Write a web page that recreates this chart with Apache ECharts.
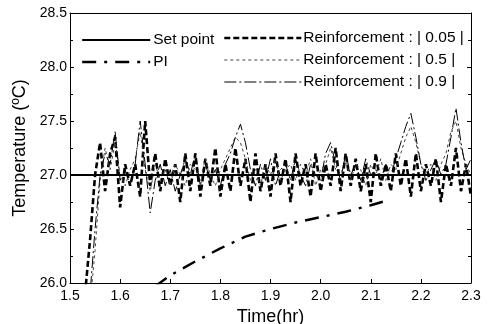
<!DOCTYPE html>
<html>
<head>
<meta charset="utf-8">
<script src="https://cdn.jsdelivr.net/npm/echarts@6/dist/echarts.min.js"></script>
<style>
  html, body { margin: 0; padding: 0; background: #fff; }
  #chart { width: 489px; height: 324px; }
</style>
</head>
<body>
<div id="chart"></div>
<script>
// time axis (hr)
var times = [1.53, 1.54, 1.55, 1.56, 1.57, 1.58, 1.59, 1.60, 1.61, 1.62, 1.63, 1.64, 1.65, 1.66, 1.67, 1.68, 1.69,
	1.70, 1.71, 1.72, 1.73, 1.74, 1.75, 1.76, 1.77, 1.78, 1.79, 1.80, 1.81, 1.82, 1.83, 1.84, 1.85, 1.86, 1.87, 1.88, 1.89,
	1.90, 1.91, 1.92, 1.93, 1.94, 1.95, 1.96, 1.97, 1.98, 1.99, 2.00, 2.01, 2.02, 2.03, 2.04, 2.05, 2.06, 2.07, 2.08, 2.09,
	2.10, 2.11, 2.12, 2.13, 2.14, 2.15, 2.16, 2.17, 2.18, 2.19, 2.20, 2.21, 2.22, 2.23, 2.24, 2.25, 2.26, 2.27, 2.28, 2.29, 2.30];

var rein005 = [25.9, 26.4, 27.0, 27.3, 26.85, 27.2, 27.35, 26.7, 27.1, 26.9, 27.1, 26.8, 27.5, 26.9, 27.2, 26.85, 27.15,
	26.9, 27.1, 26.75, 27.2, 26.85, 27.2, 26.8, 27.15, 26.9, 27.25, 26.8, 27.1, 26.85, 27.25, 26.9, 27.15, 26.75, 27.2, 26.85, 27.1,
	26.8, 27.2, 26.9, 27.15, 26.75, 27.2, 26.9, 27.1, 26.8, 27.2, 26.85, 27.1, 26.9, 27.25, 26.85, 27.2, 26.9, 27.15, 26.85, 27.1,
	26.75, 27.2, 26.9, 27.1, 26.85, 27.2, 26.9, 27.15, 26.8, 27.2, 26.85, 27.1, 26.9, 27.15, 26.75, 27.1, 26.9, 27.25, 26.85, 27.1, 26.8];

var rein05 = [25.4, 25.8, 26.3, 26.95, 27.25, 27.05, 27.3, 27.0, 26.9, 27.05, 27.15, 27.4, 27.05, 26.85, 27.1, 26.95, 27.05,
	26.9, 27.1, 27.0, 26.9, 27.1, 27.05, 26.95, 27.15, 27.0, 26.9, 27.05, 27.15, 27.25, 27.35, 27.3, 27.15, 26.95, 27.05, 26.9, 27.1,
	27.0, 27.15, 26.95, 27.05, 27.1, 26.95, 27.1, 27.0, 27.15, 26.9, 27.05, 27.1, 27.25, 27.05, 27.0, 27.15, 26.95, 27.1, 27.05, 26.9,
	27.1, 27.0, 27.15, 26.95, 27.1, 27.05, 27.2, 27.35, 27.45, 27.3, 27.1, 27.0, 27.1, 26.95, 27.1, 27.2, 27.4, 27.5, 27.25, 27.1, 27.0];

var rein09 = [25.4, 25.9, 26.5, 27.0, 27.2, 27.1, 27.4, 26.95, 27.05, 26.9, 27.1, 27.5, 27.1, 26.65, 26.95, 27.1, 26.9,
	27.05, 26.85, 27.0, 27.15, 27.0, 27.2, 26.9, 27.1, 26.95, 27.05, 26.9, 27.1, 27.2, 27.35, 27.47, 27.3, 27.05, 26.9, 27.1, 26.95,
	27.15, 26.9, 27.05, 27.1, 26.95, 27.15, 27.0, 26.9, 27.1, 27.0, 26.95, 27.2, 27.3, 27.1, 26.95, 27.2, 27.0, 27.1, 26.95, 27.15,
	27.0, 27.05, 26.95, 27.1, 27.0, 27.15, 27.3, 27.45, 27.57, 27.35, 27.1, 26.95, 27.05, 27.15, 27.0, 27.1, 27.35, 27.62, 27.3, 27.05, 27.15];

var setPoint = [[1.5, 27.0], [2.3, 27.0]];

var piTimes = [1.67, 1.70, 1.75, 1.80, 1.85, 1.90, 1.95, 2.00, 2.05, 2.10, 2.13];
var piValues = [25.97, 26.07, 26.2, 26.32, 26.43, 26.5, 26.56, 26.61, 26.66, 26.72, 26.76];

var xTicks = ['1.5', '1.6', '1.7', '1.8', '1.9', '2.0', '2.1', '2.2', '2.3'];

function pairs(xs, ys) {
	var out = [];
	for (var i = 0; i < xs.length; i++) {
		out.push([xs[i], ys[i]]);
	}
	return out;
}

var myChart = echarts.init(document.getElementById('chart'));
var font = 'Liberation Sans, Arial, sans-serif';

var baseAxis = {
	axisLine: { show: true, lineStyle: { color: '#000', width: 1 } },
	axisTick: { show: true, inside: true, length: 4, lineStyle: { color: '#000' } },
	splitLine: { show: false }
};

var options = {
	animation: false,
	backgroundColor: '#fff',
	textStyle: { fontFamily: font },
	grid: { left: 70, right: 18, top: 13, bottom: 41, containLabel: false, outerBoundsMode: 'none' },
	legend: [
		{
			left: 76, top: 27, orient: 'vertical', itemWidth: 68, itemHeight: 10, itemGap: 6,
			textStyle: { fontSize: 15.5, color: '#000', fontFamily: font, padding: [0, 0, 0, -2] },
			itemStyle: { opacity: 0 },
			data: [
				{ name: 'Set point', lineStyle: { width: 2 } },
				{ name: 'PI', lineStyle: { width: 2.4 } }
			]
		},
		{
			left: 218, top: 25, orient: 'vertical', itemWidth: 77, itemHeight: 10, itemGap: 6,
			textStyle: { fontSize: 15.5, color: '#000', fontFamily: font, padding: [0, 0, 0, -3] },
			itemStyle: { opacity: 0 },
			data: [
				{ name: 'Reinforcement : | 0.05 |', lineStyle: { width: 2.6 } },
				{ name: 'Reinforcement : | 0.5 |', lineStyle: { width: 1 } },
				{ name: 'Reinforcement : | 0.9 |', lineStyle: { width: 1 } }
			]
		}
	],
	xAxis: [
		Object.assign({}, baseAxis, {
			type: 'value', min: 1.5, max: 2.3, interval: 0.1,
			name: 'Time(hr)', nameLocation: 'middle', nameGap: 21,
			nameTextStyle: { fontSize: 18, color: '#000', fontFamily: font },
			axisLabel: {
				color: '#000', fontSize: 14, margin: 6,
				formatter: function(v) {
					var i = Math.round((v - 1.5) * 10);
					return xTicks[i] || '';
				}
			}
		}),
		Object.assign({}, baseAxis, {
			type: 'value', min: 1.5, max: 2.3, interval: 0.1, position: 'top',
			axisTick: { show: false }, axisLabel: { show: false }
		})
	],
	yAxis: [
		Object.assign({}, baseAxis, {
			type: 'value', min: 26, max: 28.5, interval: 0.5,
			name: 'Temperature (ºC)', nameLocation: 'middle', nameGap: 41,
			nameTextStyle: { fontSize: 18, color: '#000', fontFamily: font },
			minorTick: { show: true, splitNumber: 2, length: 3, lineStyle: { color: '#000' } },
			axisLabel: { color: '#000', fontSize: 14, margin: 3, formatter: function(v) { return v.toFixed(1); } }
		}),
		Object.assign({}, baseAxis, {
			type: 'value', min: 26, max: 28.5, interval: 0.5, position: 'right',
			minorTick: { show: true, splitNumber: 2, length: 3, lineStyle: { color: '#000' } },
			axisLabel: { show: false }
		})
	],
	series: [
		{
			name: 'Set point', type: 'line', symbol: 'none', data: setPoint,
			lineStyle: { color: '#000', width: 2, type: 'solid' }, itemStyle: { color: '#000' }, z: 5
		},
		{
			name: 'PI', type: 'line', symbol: 'none', data: pairs(piTimes, piValues),
			lineStyle: { color: '#000', width: 2.4, type: [14, 8, 3, 8] }, itemStyle: { color: '#000' }
		},
		{
			name: 'Reinforcement : | 0.05 |', type: 'line', symbol: 'none', data: pairs(times, rein005),
			lineStyle: { color: '#000', width: 2.6, type: [6, 3] }, itemStyle: { color: '#000' }
		},
		{
			name: 'Reinforcement : | 0.5 |', type: 'line', symbol: 'none', data: pairs(times, rein05),
			lineStyle: { color: '#444', width: 1, type: [3, 3] }, itemStyle: { color: '#444' }
		},
		{
			name: 'Reinforcement : | 0.9 |', type: 'line', symbol: 'none', data: pairs(times, rein09),
			lineStyle: { color: '#000', width: 1, type: [12, 3, 2, 3] }, itemStyle: { color: '#000' }
		}
	]
};

myChart.setOption(options);
</script>
</body>
</html>
